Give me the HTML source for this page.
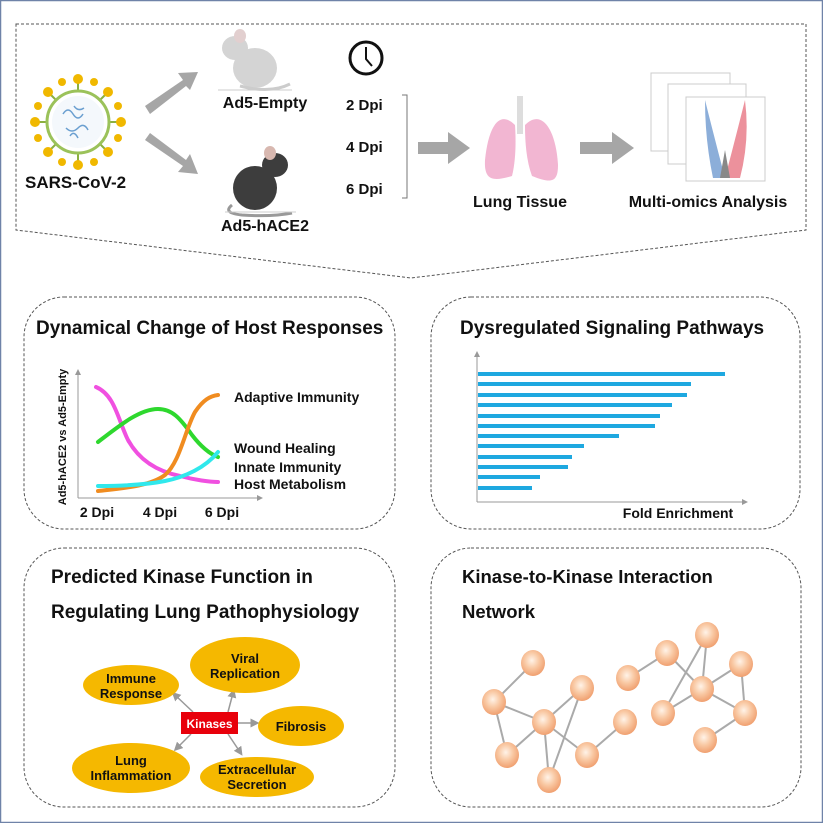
<!DOCTYPE html>
<html><head><meta charset="utf-8"><style>
html,body{margin:0;padding:0;background:#fff}
svg{display:block}
text{font-family:"Liberation Sans",sans-serif;font-weight:bold;fill:#111}
</style></head><body>
<svg width="823" height="823" viewBox="0 0 823 823" xmlns="http://www.w3.org/2000/svg">
<defs>
<radialGradient id="ng" cx="45%" cy="40%" r="60%"><stop offset="0" stop-color="#fff3e8"/><stop offset="0.5" stop-color="#f9c9a4"/><stop offset="1" stop-color="#f0a070"/></radialGradient>
<marker id="ah" markerWidth="6" markerHeight="6" refX="3" refY="3" orient="auto"><path d="M0,0 L6,3 L0,6z" fill="#999"/></marker>
</defs>
<rect x="0.5" y="0.5" width="822" height="822" fill="#fff" stroke="#6f83a8" stroke-width="1.5"/>
<path d="M16,24 L806,24 L806,230 L411,278 L16,230 Z" fill="none" stroke="#555" stroke-width="1" stroke-dasharray="3,2"/>
<g transform="translate(78,122)">
<g stroke="#8cb040" stroke-width="2">
<line x1="0" y1="-30" x2="0" y2="-40"/><line x1="0" y1="30" x2="0" y2="40"/><line x1="-30" y1="0" x2="-40" y2="0"/><line x1="30" y1="0" x2="40" y2="0"/>
<line x1="21" y1="21" x2="28" y2="28"/><line x1="-21" y1="21" x2="-28" y2="28"/><line x1="21" y1="-21" x2="28" y2="-28"/><line x1="-21" y1="-21" x2="-28" y2="-28"/>
</g>
<circle r="31" fill="#fff" stroke="#9bc25a" stroke-width="3"/>
<circle r="26" fill="#f4f8fc"/>
<path d="M-15,-8 q5,-8 10,0 t10,0 M-12,6 q6,6 12,0 t10,2 M-4,-16 q4,6 10,2 M-8,14 q4,-6 8,2" stroke="#6a9fd0" stroke-width="1.5" fill="none"/>
<g fill="#f0b800">
<circle cx="0" cy="-43" r="5"/><circle cx="0" cy="43" r="5"/><circle cx="-43" cy="0" r="5"/><circle cx="43" cy="0" r="5"/>
<circle cx="30" cy="30" r="5"/><circle cx="-30" cy="30" r="5"/><circle cx="30" cy="-30" r="5"/><circle cx="-30" cy="-30" r="5"/>
<circle cx="16" cy="-40" r="4"/><circle cx="-16" cy="-40" r="4"/><circle cx="16" cy="40" r="4"/><circle cx="-16" cy="40" r="4"/>
<circle cx="40" cy="16" r="4"/><circle cx="40" cy="-16" r="4"/><circle cx="-40" cy="16" r="4"/><circle cx="-40" cy="-16" r="4"/>
</g>
</g>
<text x="25" y="188" font-size="17">SARS-CoV-2</text>
<g fill="#a6a6a6">
<path d="M145,106 L183,80 L178,73 L198,72 L190,90 L186,86 L150,114 Z"/>
<path d="M145,140 L150,133 L186,160 L190,154 L198,174 L178,172 L183,166 Z"/>
<path d="M418,142 L448,142 L448,132 L470,148 L448,164 L448,154 L418,154 Z"/>
<path d="M580,142 L612,142 L612,132 L634,148 L612,164 L612,154 L580,154 Z"/>
</g>
<g>
<ellipse cx="255" cy="68" rx="22" ry="20" fill="#d4d4d4"/>
<ellipse cx="235" cy="48" rx="13" ry="12" fill="#d4d4d4"/>
<ellipse cx="240" cy="36" rx="6" ry="7" fill="#e2cfcf"/>
<path d="M240,86 q30,8 50,-2" stroke="#ccc" stroke-width="3" fill="none"/>
<line x1="218" y1="90" x2="292" y2="90" stroke="#ccc"/>
</g>
<g>
<ellipse cx="255" cy="188" rx="22" ry="22" fill="#3d3d3d"/>
<ellipse cx="275" cy="165" rx="13" ry="12" fill="#3d3d3d"/>
<ellipse cx="270" cy="153" rx="6" ry="7" fill="#d8b8b0"/>
<path d="M232,205 q-10,8 10,10 q30,2 50,-2" stroke="#999" stroke-width="3" fill="none"/>
<line x1="225" y1="212" x2="296" y2="212" stroke="#ccc"/>
</g>
<text x="265" y="108" font-size="16" text-anchor="middle">Ad5-Empty</text>
<text x="265" y="231" font-size="16" text-anchor="middle">Ad5-hACE2</text>
<circle cx="366" cy="58" r="16" fill="#fff" stroke="#111" stroke-width="3"/>
<path d="M366,47 L366,59 L372,66" stroke="#111" stroke-width="2" fill="none"/>
<text x="346" y="110" font-size="15">2 Dpi</text>
<text x="346" y="152" font-size="15">4 Dpi</text>
<text x="346" y="194" font-size="15">6 Dpi</text>
<path d="M402,95 L407,95 L407,198 L402,198" stroke="#777" fill="none"/>
<rect x="517" y="96" width="6" height="38" fill="#ddd"/>
<path d="M515,125 C498,108 488,130 485,160 C484,180 492,182 512,176 C516,160 516,140 515,125Z" fill="#f2b6d2"/>
<path d="M525,125 C542,108 556,130 558,165 C558,182 552,184 532,176 C526,160 525,140 525,125Z" fill="#f2b6d2"/>
<text x="520" y="207" font-size="16" text-anchor="middle">Lung Tissue</text>
<rect x="651" y="73" width="79" height="78" fill="#fff" stroke="#ccc"/>
<rect x="668" y="84" width="78" height="80" fill="#fff" stroke="#ccc"/>
<rect x="686" y="97" width="79" height="84" fill="#fff" stroke="#ccc"/>
<path d="M705,100 q10,40 20,78 L713,178 Q705,140 705,100Z" fill="#3f78c0" opacity="0.6"/>
<path d="M745,100 q-10,40 -20,78 L740,178 Q750,140 745,100Z" fill="#e0485a" opacity="0.6"/>
<path d="M720,178 L725,150 L730,178Z" fill="#888"/>
<text x="708" y="207" font-size="16" text-anchor="middle">Multi-omics Analysis</text>

<g fill="none" stroke="#555" stroke-dasharray="3,2">
<rect x="24" y="297" width="371" height="232" rx="40"/>
<rect x="431" y="297" width="369" height="232" rx="40"/>
<rect x="24" y="548" width="371" height="259" rx="40"/>
<rect x="431" y="548" width="370" height="259" rx="40"/>
</g>
<text x="36" y="334" font-size="19">Dynamical Change of Host Responses</text>
<line x1="78" y1="498" x2="78" y2="372" stroke="#999" marker-end="url(#ah)"/>
<line x1="78" y1="498" x2="260" y2="498" stroke="#999" marker-end="url(#ah)"/>
<text transform="translate(66,437) rotate(-90)" font-size="11" text-anchor="middle">Ad5-hACE2 vs Ad5-Empty</text>
<g fill="none" stroke-width="4" stroke-linecap="round">
<path d="M96,387 C115,395 118,420 128,440 C140,462 160,472 180,476 C195,480 210,482 218,482" stroke="#f050e0"/>
<path d="M98,442 C120,425 140,409 158,409 C172,409 180,418 192,435 C202,448 210,454 218,457" stroke="#2ed82e"/>
<path d="M98,491 C125,488 150,486 165,475 C180,462 185,430 195,412 C203,400 210,396 218,395" stroke="#f08c20"/>
<path d="M98,486 C130,486 150,484 165,481 C185,477 205,468 218,452" stroke="#30e8ec"/>
</g>
<text x="234" y="402" font-size="14">Adaptive Immunity</text>
<text x="234" y="453" font-size="14">Wound Healing</text>
<text x="234" y="472" font-size="14">Innate Immunity</text>
<text x="234" y="489" font-size="14">Host Metabolism</text>
<text x="97" y="517" font-size="14" text-anchor="middle">2 Dpi</text>
<text x="160" y="517" font-size="14" text-anchor="middle">4 Dpi</text>
<text x="222" y="517" font-size="14" text-anchor="middle">6 Dpi</text>
<text x="460" y="334" font-size="19">Dysregulated Signaling Pathways</text>
<line x1="477" y1="502" x2="477" y2="354" stroke="#999" marker-end="url(#ah)"/>
<line x1="477" y1="502" x2="745" y2="502" stroke="#999" marker-end="url(#ah)"/>
<g fill="#1ea8e0">
<rect x="478" y="372" width="247" height="4"/>
<rect x="478" y="382" width="213" height="4"/>
<rect x="478" y="393" width="209" height="4"/>
<rect x="478" y="403" width="194" height="4"/>
<rect x="478" y="414" width="182" height="4"/>
<rect x="478" y="424" width="177" height="4"/>
<rect x="478" y="434" width="141" height="4"/>
<rect x="478" y="444" width="106" height="4"/>
<rect x="478" y="455" width="94" height="4"/>
<rect x="478" y="465" width="90" height="4"/>
<rect x="478" y="475" width="62" height="4"/>
<rect x="478" y="486" width="54" height="4"/>
</g>
<text x="678" y="518" font-size="14" text-anchor="middle">Fold Enrichment</text>
<text x="51" y="583" font-size="19">Predicted Kinase Function in</text>
<text x="51" y="618" font-size="19">Regulating Lung Pathophysiology</text>
<g stroke="#999" stroke-width="1.5" marker-end="url(#ah)">
<line x1="193" y1="712" x2="175" y2="695"/>
<line x1="228" y1="712" x2="233" y2="693"/>
<line x1="238" y1="723" x2="255" y2="723"/>
<line x1="191" y1="734" x2="177" y2="748"/>
<line x1="228" y1="734" x2="240" y2="752"/>
</g>
<g fill="#f5b800">
<ellipse cx="131" cy="685" rx="48" ry="20"/>
<ellipse cx="245" cy="665" rx="55" ry="28"/>
<ellipse cx="301" cy="726" rx="43" ry="20"/>
<ellipse cx="131" cy="768" rx="59" ry="25"/>
<ellipse cx="257" cy="777" rx="57" ry="20"/>
</g>
<g font-size="13" text-anchor="middle">
<text x="131" y="683">Immune</text><text x="131" y="698">Response</text>
<text x="245" y="663">Viral</text><text x="245" y="678">Replication</text>
<text x="301" y="731">Fibrosis</text>
<text x="131" y="765">Lung</text><text x="131" y="780">Inflammation</text>
<text x="257" y="774">Extracellular</text><text x="257" y="789">Secretion</text>
</g>
<rect x="181" y="712" width="57" height="22" fill="#e8000b"/>
<text x="209.5" y="728" font-size="12" text-anchor="middle" style="fill:#fff">Kinases</text>
<text x="462" y="583" font-size="18.5">Kinase-to-Kinase Interaction</text>
<text x="462" y="618" font-size="18.5">Network</text>
<g stroke="#aaa" stroke-width="2">
<line x1="533" y1="663" x2="494" y2="702"/>
<line x1="494" y1="702" x2="544" y2="722"/>
<line x1="494" y1="702" x2="507" y2="755"/>
<line x1="544" y1="722" x2="507" y2="755"/>
<line x1="544" y1="722" x2="582" y2="688"/>
<line x1="582" y1="688" x2="549" y2="780"/>
<line x1="544" y1="722" x2="549" y2="780"/>
<line x1="544" y1="722" x2="587" y2="755"/>
<line x1="587" y1="755" x2="625" y2="722"/>
<line x1="628" y1="678" x2="667" y2="653"/>
<line x1="667" y1="653" x2="702" y2="689"/>
<line x1="707" y1="635" x2="702" y2="689"/>
<line x1="707" y1="635" x2="663" y2="713"/>
<line x1="702" y1="689" x2="741" y2="664"/>
<line x1="702" y1="689" x2="663" y2="713"/>
<line x1="702" y1="689" x2="745" y2="713"/>
<line x1="741" y1="664" x2="745" y2="713"/>
<line x1="745" y1="713" x2="705" y2="740"/>
</g>
<g fill="url(#ng)">
<ellipse cx="533" cy="663" rx="12" ry="13"/><ellipse cx="494" cy="702" rx="12" ry="13"/>
<ellipse cx="582" cy="688" rx="12" ry="13"/><ellipse cx="544" cy="722" rx="12" ry="13"/>
<ellipse cx="507" cy="755" rx="12" ry="13"/><ellipse cx="587" cy="755" rx="12" ry="13"/>
<ellipse cx="549" cy="780" rx="12" ry="13"/><ellipse cx="625" cy="722" rx="12" ry="13"/>
<ellipse cx="628" cy="678" rx="12" ry="13"/><ellipse cx="667" cy="653" rx="12" ry="13"/>
<ellipse cx="707" cy="635" rx="12" ry="13"/><ellipse cx="741" cy="664" rx="12" ry="13"/>
<ellipse cx="702" cy="689" rx="12" ry="13"/><ellipse cx="663" cy="713" rx="12" ry="13"/>
<ellipse cx="745" cy="713" rx="12" ry="13"/><ellipse cx="705" cy="740" rx="12" ry="13"/>
</g>
</svg>
</body></html>
